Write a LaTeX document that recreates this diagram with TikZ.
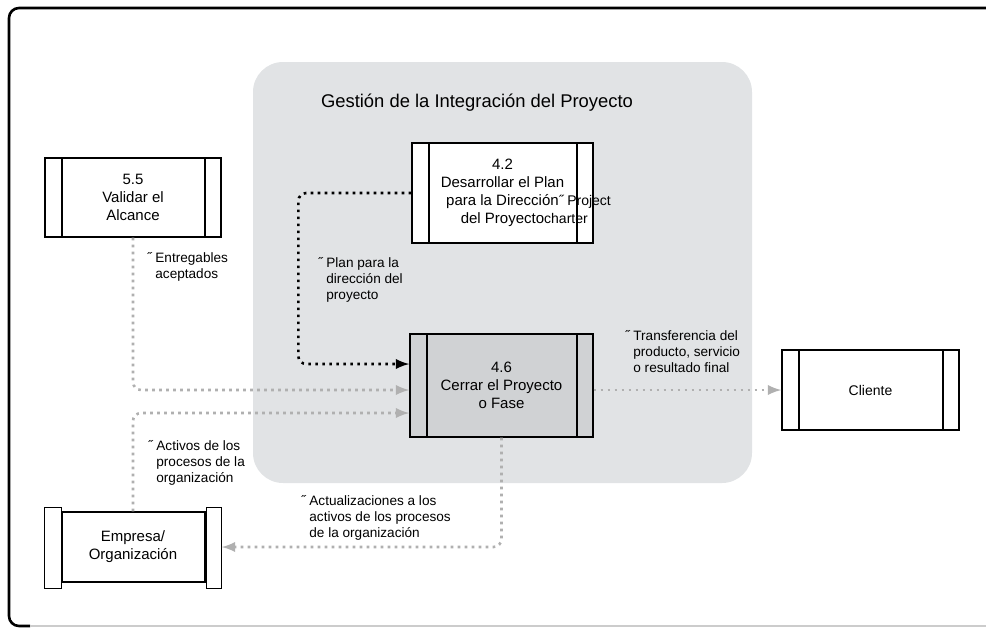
\documentclass[tikz,border=0pt]{standalone}
\usepackage{fontspec}
\setmainfont{Liberation Sans}
\usetikzlibrary{arrows}

\definecolor{zona}{HTML}{E1E3E5}
\definecolor{cajagris}{HTML}{D0D2D4}
\definecolor{puntos}{HTML}{B0B0B0}
\newcommand{\comillas}{\llap{˝ }}
\newcommand{\chico}{\fontsize{7}{9}\selectfont}

\tikzset{
  proceso/.style={draw, line width=0.7pt, fill=white, inner sep=0pt,
    font=\fontsize{7.5}{9}\selectfont, align=center,
    path picture={
      \draw[line width=0.7pt] ([xshift=8.5pt]path picture bounding box.north west) -- ([xshift=8.5pt]path picture bounding box.south west);
      \draw[line width=0.7pt] ([xshift=-8pt]path picture bounding box.north east) -- ([xshift=-8pt]path picture bounding box.south east);}},
  etiqueta/.style={anchor=north west, inner sep=0pt, align=left, font=\fontsize{6.8}{8}\selectfont},
  flujo/.style={draw=puntos, line width=1.3pt, dash pattern=on 1.3pt off 2.2pt, rounded corners=4pt, -latex},
  plan/.style={flujo, draw=black}
}

\begin{document}
\begin{tikzpicture}[x=0.5pt,y=-0.5pt]
\useasboundingbox (0,0) rectangle (986,634);
\draw[line width=1.3pt, rounded corners=5pt] (1000,8) -- (9,8) -- (9,626) -- (30,626);
\draw[line width=0.6pt, black!20] (30,626) -- (1000,626);

% zona de integracion
\fill[zona, rounded corners=15pt] (253,62) rectangle (752,483);
\node[font=\fontsize{9.2}{11}\selectfont] (titulo) at (477,103) {Gestión de la Integración del Proyecto};

% procesos
\node[proceso, minimum width=90.5pt, minimum height=50pt] (d42) at (502.5,193)
  {4.2\\Desarrollar el Plan\\para la Dirección\rlap{\chico˝ Project}\\del Proyecto\rlap{\chico charter}};
\node[proceso, fill=cajagris, minimum width=91.5pt, minimum height=51.5pt] (c46) at (501.5,385.5)
  {4.6\\Cerrar el Proyecto\\o Fase};
\node[proceso, minimum width=88pt, minimum height=39.5pt] (v55) at (133,197.5)
  {5.5\\Validar el\\Alcance};
\node[proceso, font=\fontsize{7}{9}\selectfont, minimum width=88.5pt, minimum height=40pt] (cli) at (870.5,390) {Cliente};
\node[proceso, minimum width=88pt, minimum height=35pt] (emp) at (133,547)
  {Empresa/\\Organización};
\draw[line width=0.7pt, fill=white] ([yshift=2pt]emp.north west) rectangle ([xshift=8.5pt,yshift=-3pt]emp.south west);
\draw[line width=0.7pt, fill=white] ([xshift=-7.5pt,yshift=2pt]emp.north east) rectangle ([yshift=-3pt]emp.south east);

% flujos
\draw[plan] (d42.west) -- ++(-113,0) |- ([yshift=10.75pt]c46.west);
\draw[flujo] (v55.south) |- ([yshift=-2.25pt]c46.west);
\draw[flujo] (emp.north) |- ([yshift=-13.75pt]c46.west);
\draw[flujo] (c46.east |- cli.west) -- (cli.west);
\draw[flujo] (c46.south) |- (emp.east);

% etiquetas
\node[etiqueta] (lplan) at (326,257) {\comillas Plan para la\\dirección del\\proyecto};
\node[etiqueta] (lentreg) at (155,252) {\comillas Entregables\\aceptados};
\node[etiqueta] (lactivos) at (156,440) {\comillas Activos de los\\procesos de la\\organización};
\node[etiqueta] (lactual) at (309,495) {\comillas Actualizaciones a los\\activos de los procesos\\de la organización};
\node[etiqueta] (ltransf) at (633,330) {\comillas Transferencia del\\producto, servicio\\o resultado final};
\end{tikzpicture}
\end{document}
